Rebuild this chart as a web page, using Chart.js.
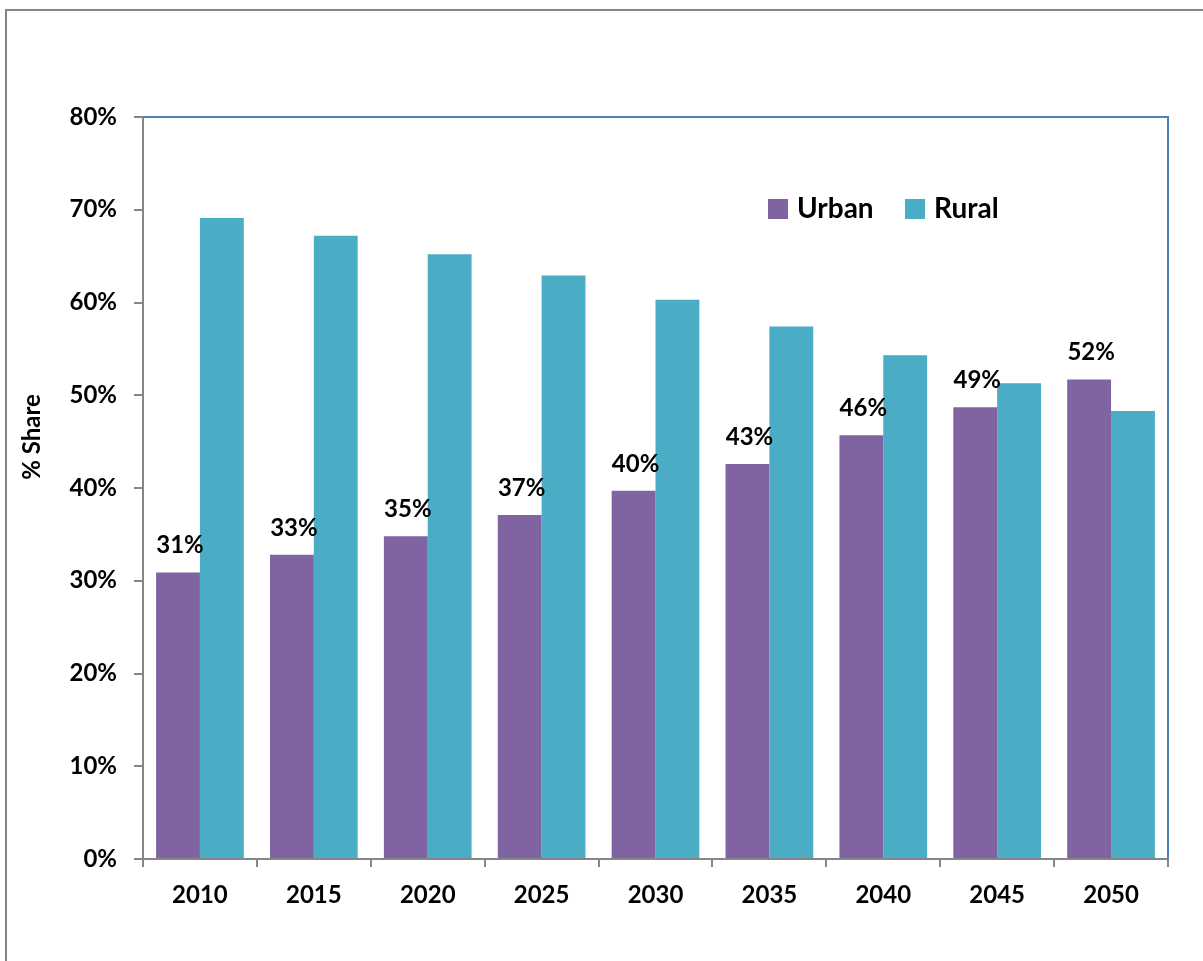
<!DOCTYPE html>
<html>
<head>
<meta charset="utf-8">
<script src="https://cdn.jsdelivr.net/npm/chart.js@4"></script>
<style>
  html, body { margin: 0; padding: 0; background: #fff; }
  #wrap { width: 1203px; height: 961px; position: relative; }
</style>
</head>
<body>
<div id="wrap"><canvas id="shareChart" width="1203" height="961"></canvas></div>
<script>
// Urban vs rural population share
const years = ['2010', '2015', '2020', '2025', '2030', '2035', '2040', '2045', '2050'];
const urbanShare = [30.9, 32.8, 34.8, 37.1, 39.7, 42.6, 45.7, 48.7, 51.7];
const ruralShare = [69.1, 67.2, 65.2, 62.9, 60.3, 57.4, 54.3, 51.3, 48.3];
const yTicks = [0, 10, 20, 30, 40, 50, 60, 70, 80];

const COLORS = {
    urban: '#8064A2',
    rural: '#4BACC6',
    axis: '#868686',
    frame: '#4F81BD'
};
const FONT = 'Lato, "Open Sans", sans-serif';

// outer border, plot frame (top/right), axis title, legend, value labels
const decorPlugin = {
    id: 'decor',
    beforeDraw(chart) {
        const ctx = chart.ctx;
        ctx.save();
        ctx.strokeStyle = COLORS.axis;
        ctx.lineWidth = 2;
        ctx.beginPath();
        ctx.moveTo(6, 961);
        ctx.lineTo(6, 10);
        ctx.lineTo(1203, 10);
        ctx.stroke();
        ctx.restore();
    },
    afterDraw(chart) {
        const ctx = chart.ctx;
        const area = chart.chartArea;
        ctx.save();

        // blue frame on top and right of plot area
        ctx.strokeStyle = COLORS.frame;
        ctx.lineWidth = 2;
        ctx.beginPath();
        ctx.moveTo(area.left, area.top);
        ctx.lineTo(area.right, area.top);
        ctx.lineTo(area.right, area.bottom);
        ctx.stroke();

        // y axis title
        ctx.fillStyle = '#000';
        ctx.font = 'bold 24px ' + FONT;
        ctx.textAlign = 'center';
        ctx.textBaseline = 'middle';
        ctx.translate(32, 437);
        ctx.rotate(-Math.PI / 2);
        ctx.fillText('% Share', 0, 0);
        ctx.setTransform(1, 0, 0, 1, 0, 0);

        // legend inside plot
        const items = [
            { label: 'Urban', color: COLORS.urban, x: 768 },
            { label: 'Rural', color: COLORS.rural, x: 905 }
        ];
        ctx.font = 'bold 28px ' + FONT;
        ctx.textAlign = 'left';
        ctx.textBaseline = 'middle';
        items.forEach(it => {
            ctx.fillStyle = it.color;
            ctx.fillRect(it.x, 199, 20, 20);
            ctx.fillStyle = '#000';
            ctx.fillText(it.label, it.x + 29, 209);
        });

        // value labels on urban bars
        const meta = chart.getDatasetMeta(0);
        ctx.font = 'bold 24px ' + FONT;
        ctx.textAlign = 'center';
        ctx.textBaseline = 'alphabetic';
        ctx.fillStyle = '#000';
        meta.data.forEach((bar, i) => {
            ctx.fillText(Math.round(urbanShare[i]) + '%', bar.x + 2, bar.y - 19);
        });
        ctx.restore();
    }
};

new Chart(document.getElementById('shareChart'), {
    type: 'bar',
    data: {
        labels: years,
        datasets: [{
            label: 'Urban',
            data: urbanShare,
            backgroundColor: COLORS.urban,
            borderWidth: 0
        }, {
            label: 'Rural',
            data: ruralShare,
            backgroundColor: COLORS.rural,
            borderWidth: 0
        }]
    },
    options: {
        responsive: false,
        animation: false,
        layout: {
            padding: { top: 117, right: 35, left: 0, bottom: 0 }
        },
        datasets: {
            bar: {
                categoryPercentage: 0.77,
                barPercentage: 1.0
            }
        },
        plugins: {
            legend: { display: false },
            tooltip: { enabled: false }
        },
        scales: {
            x: {
                offset: true,
                grid: {
                    offset: true,
                    drawOnChartArea: false,
                    drawTicks: true,
                    tickLength: 8,
                    color: COLORS.axis,
                    lineWidth: 2
                },
                border: { color: COLORS.axis, width: 2 },
                ticks: {
                    color: '#000',
                    padding: 14,
                    font: { family: FONT, size: 24, weight: 'bold' }
                },
                afterFit(scale) { scale.height = 102; }
            },
            y: {
                min: 0,
                max: 80,
                afterBuildTicks(scale) {
                    scale.ticks = yTicks.map(v => ({ value: v }));
                },
                grid: {
                    drawOnChartArea: false,
                    drawTicks: true,
                    tickLength: 9,
                    color: COLORS.axis,
                    lineWidth: 2
                },
                border: { color: COLORS.axis, width: 2 },
                ticks: {
                    color: '#000',
                    padding: 17,
                    font: { family: FONT, size: 24, weight: 'bold' },
                    callback: v => v + '%'
                },
                afterFit(scale) { scale.width = 143; }
            }
        }
    },
    plugins: [decorPlugin]
});
</script>
</body>
</html>
